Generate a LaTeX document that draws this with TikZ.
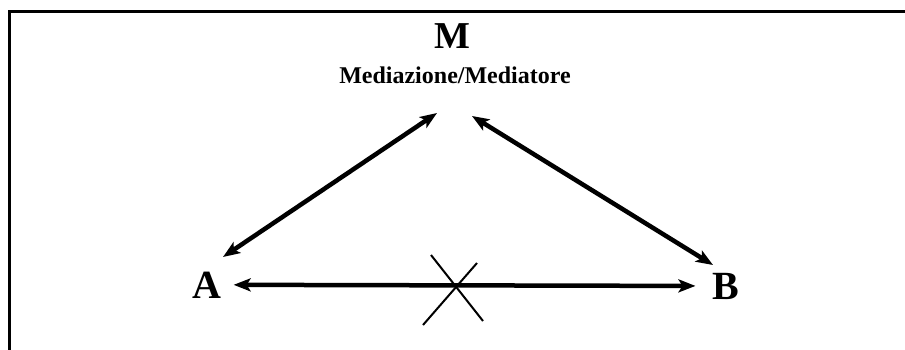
\documentclass[tikz,border=0pt]{standalone}
\usepackage{fontspec}
\setmainfont{Liberation Serif}
\usetikzlibrary{arrows.meta, positioning}

\begin{document}
\begin{tikzpicture}[x=1pt, y=-1pt,
    bigtxt/.style={font=\bfseries\fontsize{40}{48}\selectfont, inner sep=0pt, anchor=base},
    subtxt/.style={font=\bfseries\fontsize{24}{29}\selectfont, inner sep=0pt, anchor=base},
    link/.style={line width=4.5pt, {Stealth[length=17pt,width=13pt,inset=4pt]}-{Stealth[length=17pt,width=13pt,inset=4pt]}}]

    \useasboundingbox (0,0) rectangle (905,349);

    % ===================================================
    % 1. FRAME (open at right and bottom)
    % ===================================================
    \draw[line width=3pt] (9,11) rectangle (915,360);

    % ===================================================
    % 2. NODES
    % ===================================================
    \node[bigtxt, font=\bfseries\fontsize{38}{46}\selectfont] (nM) at (452,48) {M};
    \node[subtxt] (nSub) at (455,83) {Mediazione/Mediatore};
    \node[bigtxt] (nA) at (207,298) {A};
    \node[bigtxt] (nB) at (726,299) {B};

    % Arrow ends near the text
    \coordinate (aUp) at (223,257);
    \coordinate (mLeft) at (437,113);
    \coordinate (mRight) at (472,116);
    \coordinate (bUp) at (713,265);

    % ===================================================
    % 3. CONNECTIONS
    % ===================================================
    \draw[link] (aUp) -- (mLeft);
    \draw[link] (mRight) -- (bUp);
    \draw[link, shorten <=12pt, shorten >=17pt] (nA.east) -- (nB.west);

    % Cross over the direct link
    \draw[line width=2pt] (431,255) -- (483,321);
    \draw[line width=2pt] (477,263) -- (423,325);

\end{tikzpicture}
\end{document}
